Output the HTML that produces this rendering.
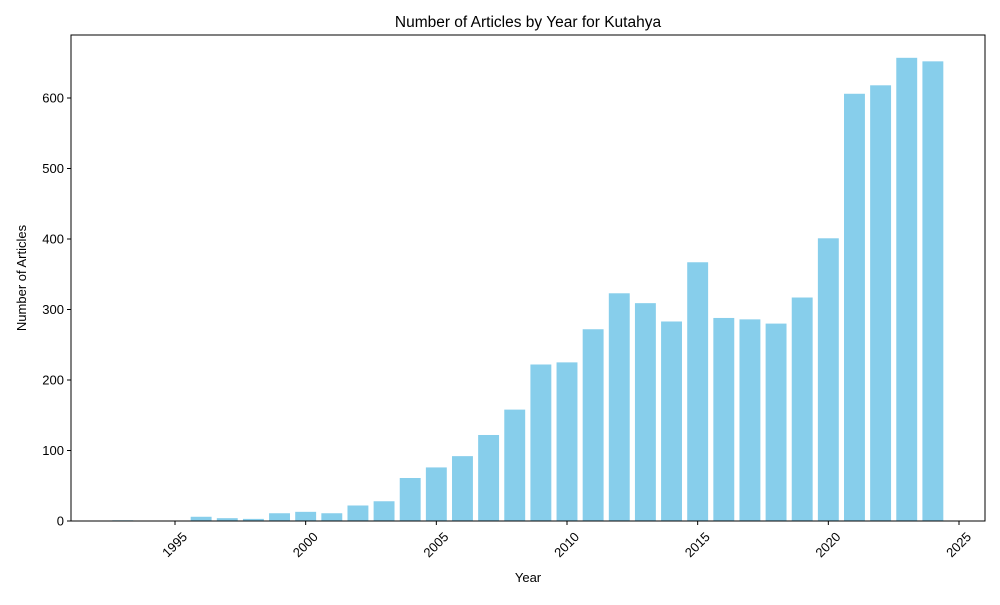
<!DOCTYPE html>
<html><head><meta charset="utf-8"><style>
body{margin:0;background:#fff;font-family:"Liberation Sans","DejaVu Sans",sans-serif}
</style></head><body>
<svg id="chart" width="1000" height="600" xmlns="http://www.w3.org/2000/svg"></svg>
<script>
const years=[1993,1996,1997,1998,1999,2000,2001,2002,2003,2004,2005,2006,2007,2008,2009,2010,2011,2012,2013,2014,2015,2016,2017,2018,2019,2020,2021,2022,2023,2024];
const counts=[1,6,4,3,11,13,11,22,28,61,76,92,122,158,222,225,272,323,309,283,367,288,286,280,317,401,606,618,657,652];
const xTicks=[1995,2000,2005,2010,2015,2020,2025];
const yTicks=[0,100,200,300,400,500,600];
const svg=document.getElementById('chart');
const NS='http://www.w3.org/2000/svg';
const L=71,R=985,T=35,B=521;
const xs=y=>175+(y-1995)*(784/30);
const ys=v=>521-v*(423/600);
function mk(tag,attrs,parent){const e=document.createElementNS(NS,tag);for(const k in attrs)e.setAttribute(k,attrs[k]);(parent||svg).appendChild(e);return e;}
const bw=0.8*784/30;
years.forEach((yr,i)=>{
  const r=mk('rect',{x:xs(yr)-bw/2,y:ys(counts[i]),width:bw,height:ys(0)-ys(counts[i]),fill:'#87ceeb'});
  
  
});
const frame=mk('rect',{x:L,y:T,width:R-L,height:B-T,fill:'none',stroke:'#000','stroke-width':1});


xTicks.forEach(t=>{
  const x=xs(t);
  mk('line',{x1:x,x2:x,y1:B,y2:B+4,stroke:'#000'});
  const cy=B+24;
  const tx=mk('text',{x:x,y:cy+4,'font-size':13,'text-anchor':'middle',transform:`rotate(-45 ${x} ${cy})`});
  tx.textContent=t;
  
  
});
yTicks.forEach(t=>{
  const y=ys(t);
  mk('line',{x1:L-4,x2:L,y1:y,y2:y,stroke:'#000'});
  const tx=mk('text',{x:L-7,y:y+4.5,'font-size':13,'text-anchor':'end'});
  tx.textContent=t;
  
  
});
const title=mk('text',{x:528,y:27,'font-size':15.5,'text-anchor':'middle'});
title.textContent='Number of Articles by Year for Kutahya';


const xl=mk('text',{x:528,y:582,'font-size':13,'text-anchor':'middle'});
xl.textContent='Year';


const yl=mk('text',{x:26,y:278,'font-size':13,'text-anchor':'middle',transform:'rotate(-90 26 278)'});
yl.textContent='Number of Articles';


</script>
</body></html>
